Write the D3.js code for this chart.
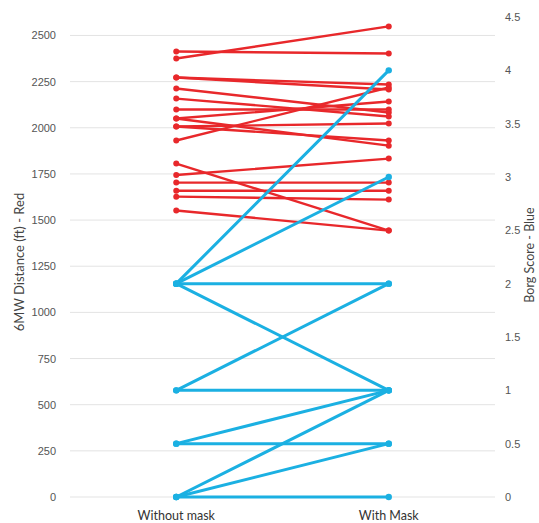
<!DOCTYPE html>
<html>
<head>
<meta charset="utf-8">
<script src="https://cdn.jsdelivr.net/npm/d3@7"></script>
<style>
  html, body { margin: 0; padding: 0; background: #fff; }
  svg { display: block; font-family: Lato, "Open Sans", sans-serif; }
</style>
</head>
<body>
<svg id="chart" width="539" height="523"></svg>
<script>
// Conditions compared
const conditions = ["Without mask", "With Mask"];

// 6-minute walk distance (ft), one pair per participant
const walkWithout = [2375, 2413, 2272, 2272, 1931, 2213, 2158, 2099, 2050, 2050, 2007, 2007, 1806, 1744, 1703, 1659, 1627, 1552];
const walkWith    = [2549, 2402, 2234, 2207, 2218, 2083, 2061, 2099, 2142, 1903, 2023, 1931, 1443, 1833, 1703, 1659, 1611, 1443];

// Borg dyspnea score, one pair per participant
const borgWithout = [2, 2, 2, 2, 1, 1, 0.5, 0.5, 0, 0, 0];
const borgWith    = [4, 3, 2, 1, 2, 1, 1, 0.5, 1, 0.5, 0];

// Axis ticks
const walkTicks = [0, 250, 500, 750, 1000, 1250, 1500, 1750, 2000, 2250, 2500];
const borgTicks = [0, 0.5, 1, 1.5, 2, 2.5, 3, 3.5, 4, 4.5];

const RED = "#e8282b";
const BLUE = "#1bb0e2";

const svg = d3.select("#chart");
const plotLeft = 70, plotRight = 495, plotTop = 17, plotBottom = 497;

const x = d3.scalePoint().domain(conditions).range([plotLeft, plotRight]).padding(0.5);
const yWalk = d3.scaleLinear().domain([0, 2600]).range([plotBottom, plotTop]);
const yBorg = d3.scaleLinear().domain([0, 4.5]).range([plotBottom, plotTop]);

// Horizontal gridlines at the distance ticks
svg.append("g")
  .selectAll("line")
  .data(walkTicks)
  .join("line")
  .attr("x1", plotLeft).attr("x2", plotRight)
  .attr("y1", d => yWalk(d)).attr("y2", d => yWalk(d))
  .attr("stroke", "#e3e3e3").attr("stroke-width", 1);

// Left axis (distance)
const leftAxis = svg.append("g")
  .attr("transform", `translate(${plotLeft},0)`)
  .call(d3.axisLeft(yWalk).tickValues(walkTicks).tickSize(0).tickPadding(14).tickFormat(d3.format("d")));
leftAxis.select(".domain").remove();
leftAxis.selectAll("text").attr("fill", "#555").attr("font-size", 11);

// Right axis (Borg)
const rightAxis = svg.append("g")
  .attr("transform", `translate(${plotRight},0)`)
  .call(d3.axisRight(yBorg).tickValues(borgTicks).tickSize(0).tickPadding(10).tickFormat(d => String(d)));
rightAxis.select(".domain").remove();
rightAxis.selectAll("text").attr("fill", "#555").attr("font-size", 11);

// Category labels
svg.append("g")
  .selectAll("text")
  .data(conditions)
  .join("text")
  .attr("x", d => x(d)).attr("y", 520)
  .attr("text-anchor", "middle")
  .attr("font-size", 12.5).attr("fill", "#333")
  .text(d => d);

// Axis titles
svg.append("text")
  .attr("transform", `translate(24,262) rotate(-90)`)
  .attr("text-anchor", "middle").attr("font-size", 13).attr("fill", "#444")
  .text("6MW Distance (ft) - Red");
svg.append("text")
  .attr("transform", `translate(534,255) rotate(-90)`)
  .attr("text-anchor", "middle").attr("font-size", 12.5).attr("fill", "#444")
  .text("Borg  Score - Blue");

// Draw paired slope lines with end dots
function drawPairs(a, b, yScale, color, width, r) {
  const pairs = a.map((v, i) => ({ a: v, b: b[i] }));
  const g = svg.append("g");
  g.selectAll("line")
    .data(pairs)
    .join("line")
    .attr("x1", x(conditions[0])).attr("x2", x(conditions[1]))
    .attr("y1", d => yScale(d.a)).attr("y2", d => yScale(d.b))
    .attr("stroke", color).attr("stroke-width", width).attr("stroke-linecap", "round");
  g.selectAll("circle.a")
    .data(pairs)
    .join("circle").attr("class", "a")
    .attr("cx", x(conditions[0])).attr("cy", d => yScale(d.a)).attr("r", r).attr("fill", color);
  g.selectAll("circle.b")
    .data(pairs)
    .join("circle").attr("class", "b")
    .attr("cx", x(conditions[1])).attr("cy", d => yScale(d.b)).attr("r", r).attr("fill", color);
}

drawPairs(walkWithout, walkWith, yWalk, RED, 2.4, 3);
drawPairs(borgWithout, borgWith, yBorg, BLUE, 3, 3.2);
</script>
</body>
</html>
